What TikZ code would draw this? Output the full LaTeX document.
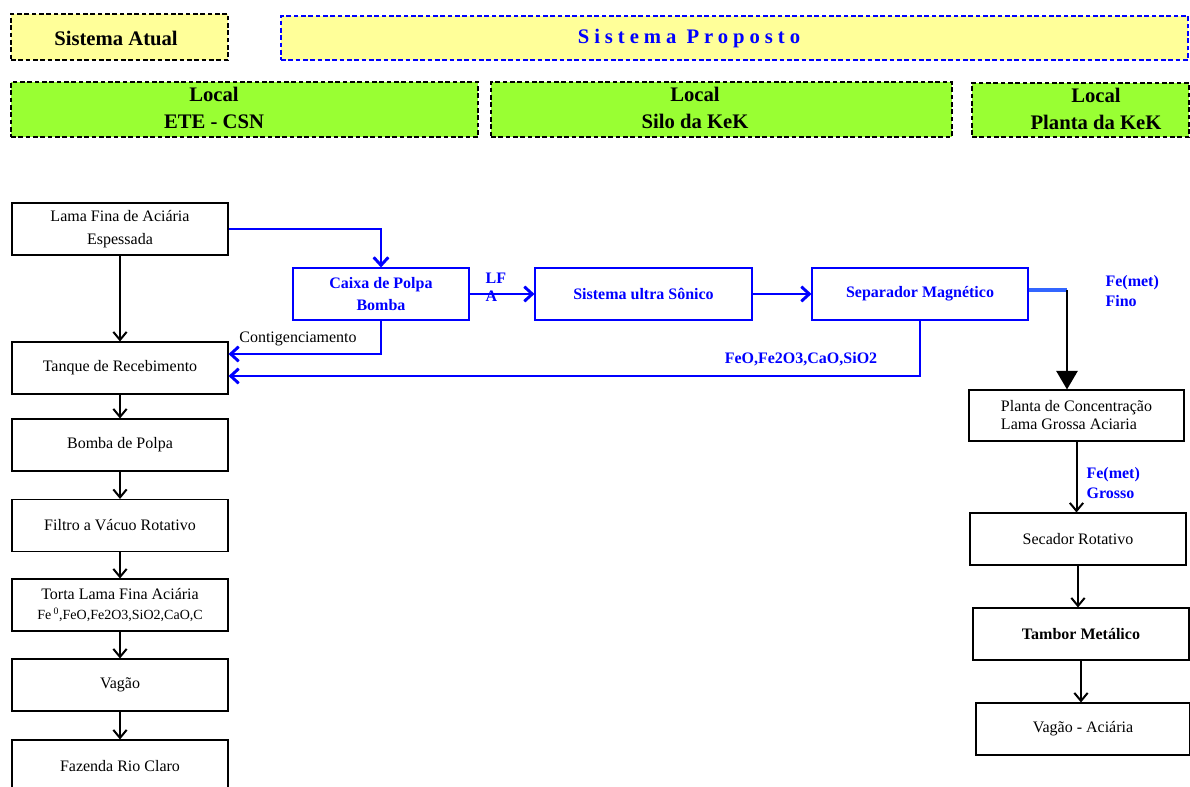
\documentclass[tikz,border=0pt]{standalone}
\usepackage{fontspec}
\setmainfont{Liberation Serif}
\usepackage{xcolor}
\usepackage{tikz}
\usetikzlibrary{arrows.meta,positioning}

\definecolor{hdryellow}{HTML}{FFFF99}
\definecolor{hdrgreen}{HTML}{99FF33}
\definecolor{flowblue}{HTML}{0000FF}
\definecolor{stubblue}{HTML}{3366FF}

\begin{document}
\begin{tikzpicture}[
    x=0.75pt, y=-0.75pt,
    font=\fontsize{12}{14}\selectfont,
    box/.style={draw,line width=0.8pt,minimum width=162pt,minimum height=39pt,inner sep=1pt,align=center,font=\fontsize{12}{17}\selectfont},
    bluebox/.style={box,draw=flowblue,text=flowblue,font=\fontsize{12}{16.5}\selectfont\bfseries},
    hdr/.style={draw,line width=1.4pt,dash pattern=on 3.5pt off 2pt,fill=hdryellow},
    local/.style={hdr,fill=hdrgreen,minimum height=41.25pt},
    hdrtext/.style={align=center,inner sep=1pt,font=\fontsize{15.5}{20}\selectfont\bfseries},
    flow/.style={draw=flowblue,line width=2.2pt,-{Straight Barb[length=6pt,width=11pt]}},
    down/.style={line width=1.5pt,-{Straight Barb[length=6pt,width=10pt]}},
    bluenote/.style={text=flowblue,align=left,inner sep=1pt,font=\fontsize{12}{15}\selectfont\bfseries},
]
    \path[use as bounding box] (0,0) rectangle (1190,787);

    % cabecalhos
    \node[hdr,minimum width=162.75pt,minimum height=34.5pt] (atual) at (119.5,37) {};
    \node[hdrtext] (atual-t) at (116,38) {Sistema Atual};
    \node[hdr,draw=flowblue,minimum width=680.25pt,minimum height=33pt] (proposto) at (734.5,38) {};
    \node[hdrtext,text=flowblue] (proposto-t) at (689,39)
        {\addfontfeature{LetterSpace=24}Sistema Proposto};

    \node[local,minimum width=350.25pt] (loc-ete) at (244.5,109.5) {};
    \node[hdrtext] (loc-ete-t) at (214,108) {Local\\ETE - CSN};
    \node[local,minimum width=345.75pt] (loc-silo) at (721.5,109.5) {};
    \node[hdrtext] (loc-silo-t) at (695,108) {Local\\Silo da KeK};
    \node[local,minimum width=162.75pt,minimum height=40.5pt] (loc-planta) at (1080.5,110) {};
    \node[hdrtext] (loc-planta-t) at (1096,109) {Local\\Planta da KeK};

    % sistema atual
    \node[box] (lama) at (120,229) {Lama Fina de Aci\'aria\\Espessada};
    \node[box] (tanque) at (120,368) {Tanque de Recebimento};
    \node[box] (bomba) at (120,445) {Bomba de Polpa};
    \node[box] (filtro) at (120,525.5) {Filtro a V\'acuo Rotativo};
    \node[box] (torta) at (120,605)
        {Torta Lama Fina Aci\'aria\\[-2pt]{\fontsize{10.5}{12}\selectfont Fe\,\textsuperscript{0},FeO,Fe2O3,SiO2,CaO,C}};
    \node[box] (vagao) at (120,685) {Vag\~ao};
    \node[box] (fazenda) at (120,766) {Fazenda Rio Claro};

    \draw[down] (lama) -- (tanque);
    \draw[down] (tanque) -- (bomba);
    \draw[down] (bomba) -- (filtro);
    \draw[down] (filtro) -- (torta);
    \draw[down] (torta) -- (vagao);
    \draw[down] (vagao) -- (fazenda);

    % sistema proposto
    \node[bluebox,minimum width=132pt] (caixa) at (381,294) {Caixa de Polpa\\Bomba};
    \node[bluebox,minimum width=162.75pt] (sonico) at (643.5,294) {Sistema ultra S\^onico};
    \node[bluebox] (separador) at (920,294) {Separador Magn\'etico};

    \draw[flow] (lama.east) -| (caixa.north);
    \draw[flow] (caixa) -- (sonico);
    \draw[flow] (sonico) -- (separador);
    \draw[flow] (caixa.south) |- ([yshift=10.5pt]tanque.east);
    \draw[flow] (separador.south) |- ([yshift=-6pt]tanque.east);

    \node[bluenote,anchor=west,font=\fontsize{12}{13.5}\selectfont\bfseries] (lfa) at (484,287) {LF\\A};
    \node[inner sep=1pt] (contig) at (298,339) {Contigenciamento};
    \node[bluenote] (oxidos) at (801,359) {FeO,Fe2O3,CaO,SiO2};

    % planta da kek
    \node[box,minimum width=161.25pt,minimum height=38.25pt,align=left,font=\fontsize{12}{13.5}\selectfont] (planta) at (1076.5,415.5)
        {Planta de Concentra\c{c}\~ao\\Lama Grossa Aciaria};
    \node[box] (secador) at (1078,539) {Secador Rotativo};
    \node[box,font=\fontsize{12}{14}\selectfont\bfseries] (tambor) at (1081,634) {Tambor Met\'alico};
    \node[box,minimum width=160.5pt] (vagaoaci) at (1083,729) {Vag\~ao - Aci\'aria};

    \coordinate (fino) at (1067,290);
    \draw[stubblue,line width=3.5pt] ([yshift=3pt]separador.east) -- (fino);
    \draw[line width=1.5pt,-{Triangle[length=14pt,width=16pt]}] (fino) -- (fino |- planta.north);
    \node[bluenote,anchor=west] (fino-t) at (1104,291) {Fe(met)\\Fino};

    \draw[down] (planta.south) -- (planta.south |- secador.north);
    \node[bluenote,anchor=west] (grosso-t) at (1085,483) {Fe(met)\\Grosso};
    \draw[down] (secador.south) -- (secador.south |- tambor.north);
    \draw[down] (tambor.south) -- (tambor.south |- vagaoaci.north);
\end{tikzpicture}
\end{document}
